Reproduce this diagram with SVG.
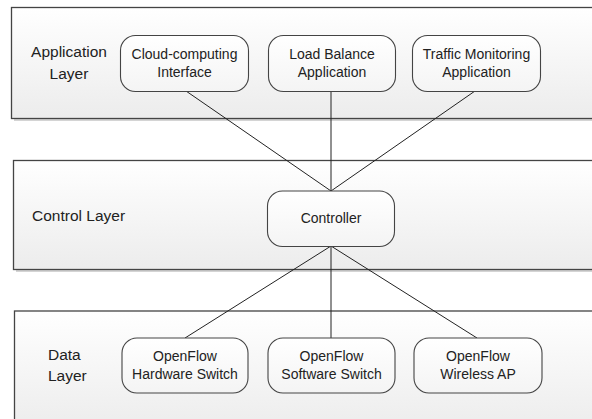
<svg xmlns="http://www.w3.org/2000/svg" width="592" height="419" viewBox="0 0 592 419">
<defs>
<linearGradient id="lg" x1="0" y1="0" x2="0" y2="1">
<stop offset="0" stop-color="#ffffff"/>
<stop offset="1" stop-color="#ececec"/>
</linearGradient>
<linearGradient id="ng" x1="0" y1="0" x2="0" y2="1">
<stop offset="0" stop-color="#ffffff"/>
<stop offset="1" stop-color="#f4f4f4"/>
</linearGradient>
</defs>
<style>
.layer{fill:url(#lg);stroke:#444;stroke-width:1.3}
.shadow{fill:#d4d4d4}
.node{fill:url(#ng);stroke:#444;stroke-width:1.1}
.edge{stroke:#222;stroke-width:1;fill:none}
text{font-family:"Liberation Sans",Arial,sans-serif;fill:#222}
.nl{font-size:14px;text-anchor:middle}
.ll{font-size:15.5px}
</style>
<rect x="0" y="0" width="592" height="419" fill="#fff"/>
<g id="layers">
<g id="app-layer">
<rect class="shadow" x="14" y="10" width="590" height="111"/>
<rect class="layer" x="11.5" y="7.5" width="590" height="111"/>
<text class="ll" x="69" y="57" text-anchor="middle">Application</text>
<text class="ll" x="69" y="79" text-anchor="middle">Layer</text>
</g>
<g id="control-layer">
<rect class="shadow" x="16" y="163" width="590" height="109"/>
<rect class="layer" x="13.5" y="160.5" width="590" height="109"/>
<text class="ll" x="32" y="221">Control Layer</text>
</g>
<g id="data-layer">
<rect class="layer" x="14.5" y="311" width="590" height="120"/>
<text class="ll" x="48" y="360">Data</text>
<text class="ll" x="48" y="381">Layer</text>
</g>
</g>
<g id="connectors">
<line class="edge" x1="186" y1="91" x2="331" y2="191"/>
<line class="edge" x1="331" y1="91" x2="331" y2="191"/>
<line class="edge" x1="475" y1="91" x2="331" y2="191"/>
<line class="edge" x1="331" y1="246" x2="185" y2="338"/>
<line class="edge" x1="331" y1="246" x2="331" y2="338"/>
<line class="edge" x1="331" y1="246" x2="477" y2="338"/>
</g>
<g id="cloud">
<rect class="node" x="120.5" y="35.5" width="128" height="56" rx="15"/>
<text class="nl" x="184.5" y="59">Cloud-computing</text>
<text class="nl" x="184.5" y="77">Interface</text>
</g>
<g id="loadbalance">
<rect class="node" x="268.5" y="35.5" width="127" height="56" rx="15"/>
<text class="nl" x="332" y="59">Load Balance</text>
<text class="nl" x="332" y="77">Application</text>
</g>
<g id="traffic">
<rect class="node" x="412.5" y="35.5" width="128" height="56" rx="15"/>
<text class="nl" x="476.5" y="59">Traffic Monitoring</text>
<text class="nl" x="476.5" y="77">Application</text>
</g>
<g id="controller">
<rect class="node" x="267.5" y="191" width="127" height="55.5" rx="15"/>
<text class="nl" x="331" y="223">Controller</text>
</g>
<g id="hwswitch">
<rect class="node" x="122" y="338" width="126" height="55" rx="15"/>
<text class="nl" x="185" y="361">OpenFlow</text>
<text class="nl" x="185" y="379">Hardware Switch</text>
</g>
<g id="swswitch">
<rect class="node" x="268" y="338" width="127" height="55" rx="15"/>
<text class="nl" x="331.5" y="361">OpenFlow</text>
<text class="nl" x="331.5" y="379">Software Switch</text>
</g>
<g id="wirelessap">
<rect class="node" x="414" y="338" width="128" height="55" rx="15"/>
<text class="nl" x="478" y="361">OpenFlow</text>
<text class="nl" x="478" y="379">Wireless AP</text>
</g>
</svg>
